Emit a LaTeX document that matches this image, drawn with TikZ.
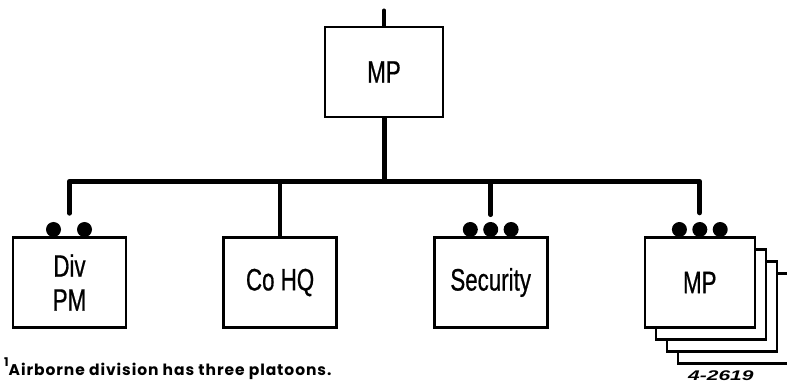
\documentclass[tikz,border=0pt]{standalone}
\usepackage{fontspec}
\setmainfont{Liberation Sans}
\newfontfamily\boxfont[FakeStretch=0.72,FakeBold=0.6]{Liberation Sans}
\newfontfamily\notefont[LetterSpace=6]{Poppins}
\newfontfamily\tagfont[FakeStretch=1.5]{Liberation Sans}
\usetikzlibrary{positioning,backgrounds}

\begin{document}
\begin{tikzpicture}[x=1pt,y=-1pt,
unit/.style={draw,line width=2.6pt,fill=white,align=center,minimum width=113pt,minimum height=90pt,font=\boxfont\fontsize{31}{34}\selectfont},
dot/.style={circle,fill=black,inner sep=0pt,minimum size=15pt},
bus/.style={line width=5pt,line join=round},
stem/.style={line width=4.5pt,line cap=round}]
\useasboundingbox (0,0) rectangle (787,382);
% top unit
\path (384,72) coordinate (hqpos);
\node[unit,minimum width=118pt] at (hqpos) (top){MP};
\coordinate[above=15pt of top.north](feed);
\coordinate[below=63pt of top.south](bus);
% subordinate units
\node[unit] at (69.5,282.5) (divpm){Div\\PM};
\node[unit,right=95pt of divpm](cohq){Co HQ};
\node[unit,right=95pt of cohq](sec){Security};
\node[unit,right=95pt of sec,minimum width=110pt](mp){MP};
\begin{scope}[on background layer]
\node[unit,minimum width=110pt] at ([shift={(33pt,-36pt)}]mp.center)(mp4){};
\node[unit,minimum width=110pt] at ([shift={(22pt,-24pt)}]mp.center)(mp3){};
\node[unit,minimum width=110pt] at ([shift={(11pt,-12pt)}]mp.center)(mp2){};
\end{scope}
% dots
\node[dot,above=-1pt of divpm.north,xshift=-16pt](divpm1){};
\node[dot,above=-1pt of divpm.north,xshift=15pt](divpm2){};
\node[dot,above=-1pt of sec.north](sec2){};
\node[dot,left=5pt of sec2](sec1){};
\node[dot,right=5pt of sec2](sec3){};
\node[dot,above=-1pt of mp.north](mp12){};
\node[dot,left=5pt of mp12](mp11){};
\node[dot,right=5pt of mp12](mp13){};
% connectors
\coordinate[above=23pt of divpm.north](divdrop);
\coordinate[above=9pt of mp12.north](mpdrop);
\draw[stem](feed)--(top.north);
\draw[bus](top.south)--(bus);
\draw[bus,line cap=round](divdrop)--(divdrop|-bus)--(mpdrop|-bus)--(mpdrop);
\draw[stem](cohq.north|-bus)--(cohq.north);
\draw[stem](sec2.north|-bus)--([yshift=7pt]sec2.north);
% notes
\node[anchor=base west,inner sep=0pt,font=\notefont\bfseries\fontsize{15.5}{17}\selectfont] at (4,375) (note){\raisebox{9pt}{\fontsize{12}{13}\selectfont 1}Airborne division has three platoons.};
\node[anchor=base west,inner sep=0pt,font=\tagfont\bfseries\itshape\fontsize{14}{15}\selectfont] at (688,380) (tag){4-2619};
\end{tikzpicture}
\end{document}
